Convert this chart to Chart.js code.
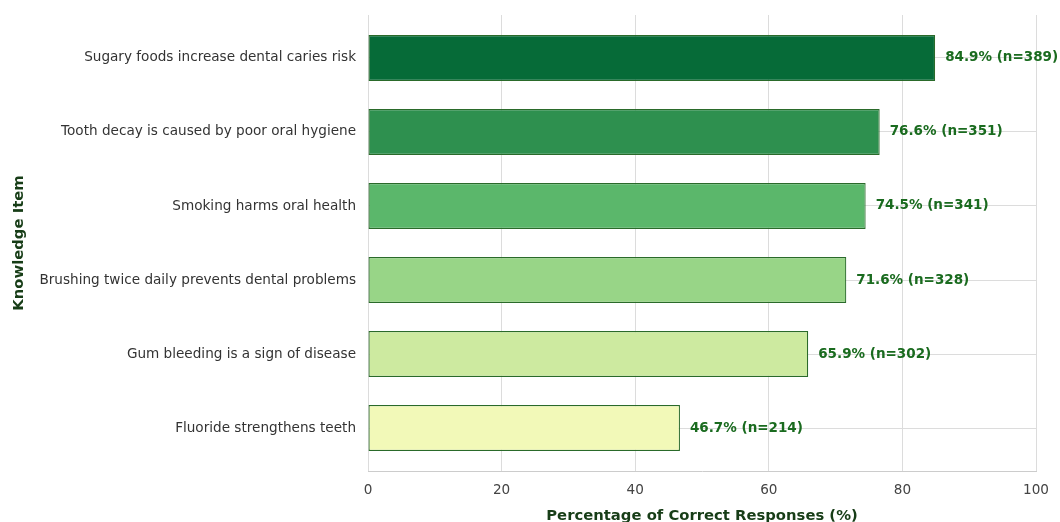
<!DOCTYPE html>
<html>
<head>
<meta charset="utf-8">
<script src="https://cdn.jsdelivr.net/npm/chart.js@4.4.1/dist/chart.umd.min.js"></script>
<style>
  html, body { margin: 0; padding: 0; background: #fff; }
  #wrap { width: 1060px; height: 522px; }
</style>
</head>
<body>
<div id="wrap"><canvas id="knowledge"></canvas></div>
<script>
var items = [
  'Sugary foods increase dental caries risk',
  'Tooth decay is caused by poor oral hygiene',
  'Smoking harms oral health',
  'Brushing twice daily prevents dental problems',
  'Gum bleeding is a sign of disease',
  'Fluoride strengthens teeth'
];
var percents = [84.9, 76.6, 74.5, 71.6, 65.9, 46.7];
var counts = [389, 351, 341, 328, 302, 214];
var xTicks = [0, 20, 40, 60, 80, 100];
var barColors = ['#066b38', '#2e904f', '#5bb76b', '#98d587', '#cdeaa0', '#f2f9b8'];

var points = [];
for (var i in percents) {
  points.push({ x: percents[i], y: Number(i) });
}

// value labels at the end of each bar
var barLabels = {
  id: 'barLabels',
  afterDatasetsDraw: function(chart) {
    var ctx = chart.ctx;
    var meta = chart.getDatasetMeta(0);
    ctx.save();
    ctx.font = 'bold 13.5px "DejaVu Sans"';
    ctx.fillStyle = '#1a6b1f';
    ctx.textAlign = 'left';
    ctx.textBaseline = 'middle';
    meta.data.forEach(function(bar, i) {
      ctx.fillText(percents[i].toFixed(1) + '% (n=' + counts[i] + ')', bar.x + 10, bar.y);
    });
    ctx.restore();
  }
};

var ctx = document.getElementById('knowledge');
var chart = new Chart(ctx, {
  type: 'bar',
  data: {
    datasets: [{
      data: points,
      backgroundColor: barColors,
      borderColor: '#2a6a2a',
      borderWidth: 1.2,
      borderSkipped: false,
      barPercentage: 0.62,
      categoryPercentage: 1.0
    }]
  },
  options: {
    indexAxis: 'y',
    responsive: true,
    maintainAspectRatio: false,
    animation: false,
    events: [],
    layout: { padding: { left: 0, right: 24, top: 15, bottom: 0 } },
    plugins: {
      legend: { display: false },
      tooltip: { enabled: false }
    },
    scales: {
      x: {
        type: 'linear',
        min: 0,
        max: 100,
        afterBuildTicks: function(scale) {
          scale.ticks = xTicks.map(function(v) { return { value: v }; });
        },
        afterFit: function(scale) { scale.height = 51; },
        grid: { color: '#dcdcdc', lineWidth: 1, drawTicks: false },
        border: { display: true, color: '#cccccc', width: 1 },
        ticks: {
          padding: 11,
          color: '#444444',
          font: { family: 'DejaVu Sans', size: 13.6 }
        },
        title: {
          display: true,
          text: 'Percentage of Correct Responses (%)',
          color: '#173d17',
          font: { family: 'DejaVu Sans', size: 14.8, weight: 'bold', lineHeight: 0.85 },
          padding: { top: 0, bottom: 0 }
        }
      },
      y: {
        type: 'linear',
        reverse: true,
        offset: false,
        min: -0.58,
        max: 5.58,
        afterBuildTicks: function(scale) {
          scale.ticks = items.map(function(_, i) { return { value: i }; });
        },
        afterFit: function(scale) {
          scale.width = 368;
          scale.paddingTop = 0;
          scale.paddingBottom = 0;
        },
        grid: { color: '#dcdcdc', lineWidth: 1, drawTicks: false, offset: false },
        border: { display: false },
        ticks: {
          padding: 12,
          color: '#333333',
          font: { family: 'DejaVu Sans', size: 13.6 },
          callback: function(v) { return items[v]; }
        },
        title: {
          display: true,
          text: 'Knowledge Item',
          color: '#173d17',
          font: { family: 'DejaVu Sans', size: 14.8, weight: 'bold', lineHeight: 1.2 },
          padding: { top: 10, bottom: 0 }
        }
      }
    }
  },
  plugins: [barLabels]
});
</script>
</body>
</html>
